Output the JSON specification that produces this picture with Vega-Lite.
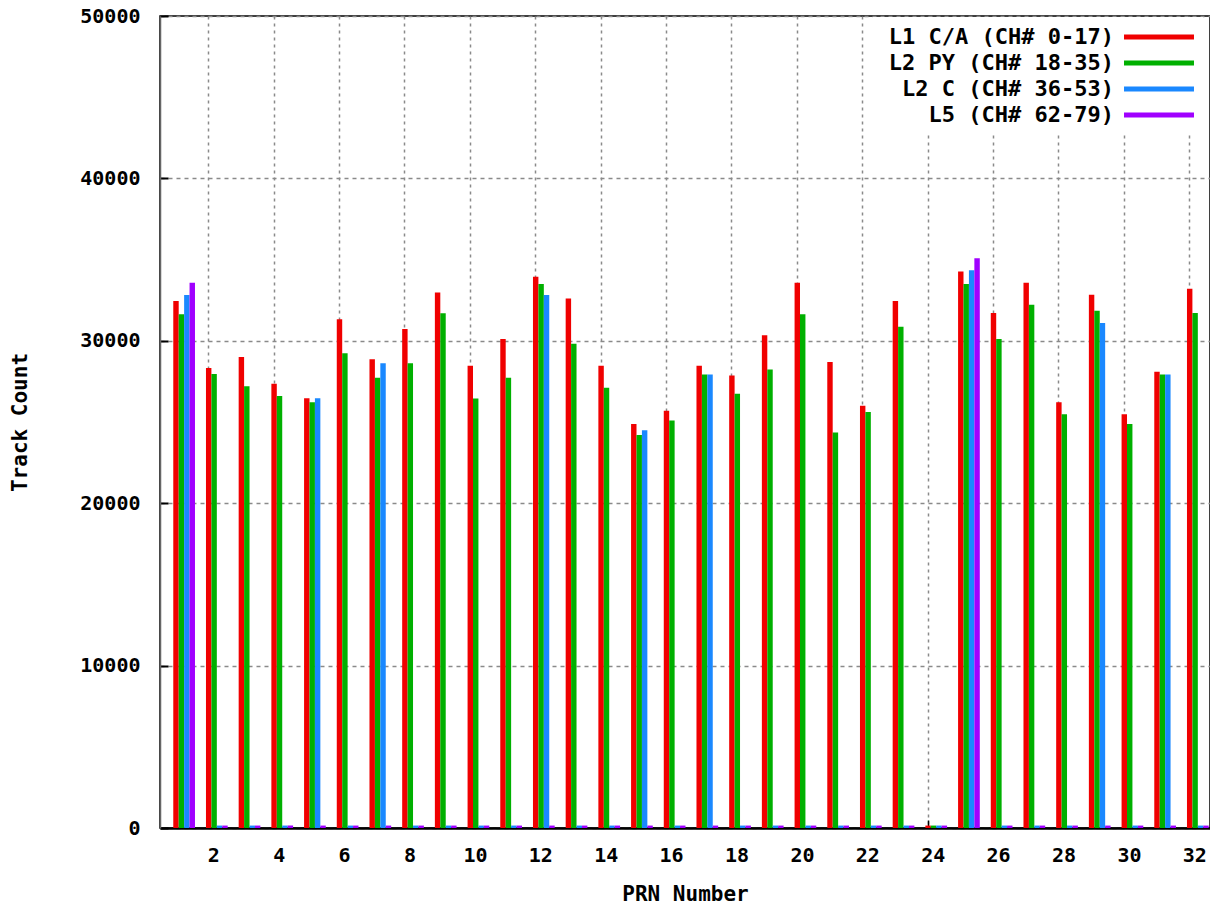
{
  "$schema": "https://vega.github.io/schema/vega-lite/v6.json",
  "width": 1050,
  "height": 812,
  "autosize": {"type": "none"},
  "padding": {"left": 160, "top": 16, "right": 0, "bottom": 77},
  "background": "white",
  "config": {
    "view": {"stroke": "#000", "strokeWidth": 1.5},
    "font": "DejaVu Sans Mono"
  },
  "data": {
    "values": [
      {"prn": 1, "signal": "L1 C/A (CH# 0-17)", "count": 32450},
      {"prn": 1, "signal": "L2 PY (CH# 18-35)", "count": 31630},
      {"prn": 1, "signal": "L2 C (CH# 36-53)", "count": 32820},
      {"prn": 1, "signal": "L5 (CH# 62-79)", "count": 33580},
      {"prn": 2, "signal": "L1 C/A (CH# 0-17)", "count": 28330},
      {"prn": 2, "signal": "L2 PY (CH# 18-35)", "count": 27960},
      {"prn": 2, "signal": "L2 C (CH# 36-53)", "count": 150},
      {"prn": 2, "signal": "L5 (CH# 62-79)", "count": 150},
      {"prn": 3, "signal": "L1 C/A (CH# 0-17)", "count": 29000},
      {"prn": 3, "signal": "L2 PY (CH# 18-35)", "count": 27200},
      {"prn": 3, "signal": "L2 C (CH# 36-53)", "count": 150},
      {"prn": 3, "signal": "L5 (CH# 62-79)", "count": 150},
      {"prn": 4, "signal": "L1 C/A (CH# 0-17)", "count": 27360},
      {"prn": 4, "signal": "L2 PY (CH# 18-35)", "count": 26600},
      {"prn": 4, "signal": "L2 C (CH# 36-53)", "count": 150},
      {"prn": 4, "signal": "L5 (CH# 62-79)", "count": 150},
      {"prn": 5, "signal": "L1 C/A (CH# 0-17)", "count": 26460},
      {"prn": 5, "signal": "L2 PY (CH# 18-35)", "count": 26210},
      {"prn": 5, "signal": "L2 C (CH# 36-53)", "count": 26460},
      {"prn": 5, "signal": "L5 (CH# 62-79)", "count": 150},
      {"prn": 6, "signal": "L1 C/A (CH# 0-17)", "count": 31320},
      {"prn": 6, "signal": "L2 PY (CH# 18-35)", "count": 29230},
      {"prn": 6, "signal": "L2 C (CH# 36-53)", "count": 150},
      {"prn": 6, "signal": "L5 (CH# 62-79)", "count": 150},
      {"prn": 7, "signal": "L1 C/A (CH# 0-17)", "count": 28860},
      {"prn": 7, "signal": "L2 PY (CH# 18-35)", "count": 27730},
      {"prn": 7, "signal": "L2 C (CH# 36-53)", "count": 28610},
      {"prn": 7, "signal": "L5 (CH# 62-79)", "count": 150},
      {"prn": 8, "signal": "L1 C/A (CH# 0-17)", "count": 30730},
      {"prn": 8, "signal": "L2 PY (CH# 18-35)", "count": 28610},
      {"prn": 8, "signal": "L2 C (CH# 36-53)", "count": 150},
      {"prn": 8, "signal": "L5 (CH# 62-79)", "count": 150},
      {"prn": 9, "signal": "L1 C/A (CH# 0-17)", "count": 32980},
      {"prn": 9, "signal": "L2 PY (CH# 18-35)", "count": 31690},
      {"prn": 9, "signal": "L2 C (CH# 36-53)", "count": 150},
      {"prn": 9, "signal": "L5 (CH# 62-79)", "count": 150},
      {"prn": 10, "signal": "L1 C/A (CH# 0-17)", "count": 28470},
      {"prn": 10, "signal": "L2 PY (CH# 18-35)", "count": 26440},
      {"prn": 10, "signal": "L2 C (CH# 36-53)", "count": 150},
      {"prn": 10, "signal": "L5 (CH# 62-79)", "count": 150},
      {"prn": 11, "signal": "L1 C/A (CH# 0-17)", "count": 30110},
      {"prn": 11, "signal": "L2 PY (CH# 18-35)", "count": 27730},
      {"prn": 11, "signal": "L2 C (CH# 36-53)", "count": 150},
      {"prn": 11, "signal": "L5 (CH# 62-79)", "count": 150},
      {"prn": 12, "signal": "L1 C/A (CH# 0-17)", "count": 33950},
      {"prn": 12, "signal": "L2 PY (CH# 18-35)", "count": 33500},
      {"prn": 12, "signal": "L2 C (CH# 36-53)", "count": 32820},
      {"prn": 12, "signal": "L5 (CH# 62-79)", "count": 150},
      {"prn": 13, "signal": "L1 C/A (CH# 0-17)", "count": 32600},
      {"prn": 13, "signal": "L2 PY (CH# 18-35)", "count": 29820},
      {"prn": 13, "signal": "L2 C (CH# 36-53)", "count": 150},
      {"prn": 13, "signal": "L5 (CH# 62-79)", "count": 150},
      {"prn": 14, "signal": "L1 C/A (CH# 0-17)", "count": 28470},
      {"prn": 14, "signal": "L2 PY (CH# 18-35)", "count": 27110},
      {"prn": 14, "signal": "L2 C (CH# 36-53)", "count": 150},
      {"prn": 14, "signal": "L5 (CH# 62-79)", "count": 150},
      {"prn": 15, "signal": "L1 C/A (CH# 0-17)", "count": 24880},
      {"prn": 15, "signal": "L2 PY (CH# 18-35)", "count": 24200},
      {"prn": 15, "signal": "L2 C (CH# 36-53)", "count": 24490},
      {"prn": 15, "signal": "L5 (CH# 62-79)", "count": 150},
      {"prn": 16, "signal": "L1 C/A (CH# 0-17)", "count": 25700},
      {"prn": 16, "signal": "L2 PY (CH# 18-35)", "count": 25100},
      {"prn": 16, "signal": "L2 C (CH# 36-53)", "count": 150},
      {"prn": 16, "signal": "L5 (CH# 62-79)", "count": 150},
      {"prn": 17, "signal": "L1 C/A (CH# 0-17)", "count": 28470},
      {"prn": 17, "signal": "L2 PY (CH# 18-35)", "count": 27930},
      {"prn": 17, "signal": "L2 C (CH# 36-53)", "count": 27930},
      {"prn": 17, "signal": "L5 (CH# 62-79)", "count": 150},
      {"prn": 18, "signal": "L1 C/A (CH# 0-17)", "count": 27870},
      {"prn": 18, "signal": "L2 PY (CH# 18-35)", "count": 26740},
      {"prn": 18, "signal": "L2 C (CH# 36-53)", "count": 150},
      {"prn": 18, "signal": "L5 (CH# 62-79)", "count": 150},
      {"prn": 19, "signal": "L1 C/A (CH# 0-17)", "count": 30340},
      {"prn": 19, "signal": "L2 PY (CH# 18-35)", "count": 28240},
      {"prn": 19, "signal": "L2 C (CH# 36-53)", "count": 150},
      {"prn": 19, "signal": "L5 (CH# 62-79)", "count": 150},
      {"prn": 20, "signal": "L1 C/A (CH# 0-17)", "count": 33580},
      {"prn": 20, "signal": "L2 PY (CH# 18-35)", "count": 31630},
      {"prn": 20, "signal": "L2 C (CH# 36-53)", "count": 150},
      {"prn": 20, "signal": "L5 (CH# 62-79)", "count": 150},
      {"prn": 21, "signal": "L1 C/A (CH# 0-17)", "count": 28690},
      {"prn": 21, "signal": "L2 PY (CH# 18-35)", "count": 24360},
      {"prn": 21, "signal": "L2 C (CH# 36-53)", "count": 150},
      {"prn": 21, "signal": "L5 (CH# 62-79)", "count": 150},
      {"prn": 22, "signal": "L1 C/A (CH# 0-17)", "count": 26000},
      {"prn": 22, "signal": "L2 PY (CH# 18-35)", "count": 25620},
      {"prn": 22, "signal": "L2 C (CH# 36-53)", "count": 150},
      {"prn": 22, "signal": "L5 (CH# 62-79)", "count": 150},
      {"prn": 23, "signal": "L1 C/A (CH# 0-17)", "count": 32450},
      {"prn": 23, "signal": "L2 PY (CH# 18-35)", "count": 30870},
      {"prn": 23, "signal": "L2 C (CH# 36-53)", "count": 150},
      {"prn": 23, "signal": "L5 (CH# 62-79)", "count": 150},
      {"prn": 24, "signal": "L1 C/A (CH# 0-17)", "count": 150},
      {"prn": 24, "signal": "L2 PY (CH# 18-35)", "count": 150},
      {"prn": 24, "signal": "L2 C (CH# 36-53)", "count": 150},
      {"prn": 24, "signal": "L5 (CH# 62-79)", "count": 150},
      {"prn": 25, "signal": "L1 C/A (CH# 0-17)", "count": 34260},
      {"prn": 25, "signal": "L2 PY (CH# 18-35)", "count": 33500},
      {"prn": 25, "signal": "L2 C (CH# 36-53)", "count": 34340},
      {"prn": 25, "signal": "L5 (CH# 62-79)", "count": 35080},
      {"prn": 26, "signal": "L1 C/A (CH# 0-17)", "count": 31710},
      {"prn": 26, "signal": "L2 PY (CH# 18-35)", "count": 30110},
      {"prn": 26, "signal": "L2 C (CH# 36-53)", "count": 150},
      {"prn": 26, "signal": "L5 (CH# 62-79)", "count": 150},
      {"prn": 27, "signal": "L1 C/A (CH# 0-17)", "count": 33580},
      {"prn": 27, "signal": "L2 PY (CH# 18-35)", "count": 32220},
      {"prn": 27, "signal": "L2 C (CH# 36-53)", "count": 150},
      {"prn": 27, "signal": "L5 (CH# 62-79)", "count": 150},
      {"prn": 28, "signal": "L1 C/A (CH# 0-17)", "count": 26210},
      {"prn": 28, "signal": "L2 PY (CH# 18-35)", "count": 25470},
      {"prn": 28, "signal": "L2 C (CH# 36-53)", "count": 150},
      {"prn": 28, "signal": "L5 (CH# 62-79)", "count": 150},
      {"prn": 29, "signal": "L1 C/A (CH# 0-17)", "count": 32840},
      {"prn": 29, "signal": "L2 PY (CH# 18-35)", "count": 31850},
      {"prn": 29, "signal": "L2 C (CH# 36-53)", "count": 31100},
      {"prn": 29, "signal": "L5 (CH# 62-79)", "count": 150},
      {"prn": 30, "signal": "L1 C/A (CH# 0-17)", "count": 25470},
      {"prn": 30, "signal": "L2 PY (CH# 18-35)", "count": 24880},
      {"prn": 30, "signal": "L2 C (CH# 36-53)", "count": 150},
      {"prn": 30, "signal": "L5 (CH# 62-79)", "count": 150},
      {"prn": 31, "signal": "L1 C/A (CH# 0-17)", "count": 28100},
      {"prn": 31, "signal": "L2 PY (CH# 18-35)", "count": 27930},
      {"prn": 31, "signal": "L2 C (CH# 36-53)", "count": 27930},
      {"prn": 31, "signal": "L5 (CH# 62-79)", "count": 150},
      {"prn": 32, "signal": "L1 C/A (CH# 0-17)", "count": 33210},
      {"prn": 32, "signal": "L2 PY (CH# 18-35)", "count": 31710},
      {"prn": 32, "signal": "L2 C (CH# 36-53)", "count": 150},
      {"prn": 32, "signal": "L5 (CH# 62-79)", "count": 150}
    ]
  },
  "mark": {"type": "bar"},
  "encoding": {
    "x": {
      "field": "prn",
      "type": "ordinal",
      "scale": {"paddingInner": 0.336, "paddingOuter": 0.223, "align": 0.91},
      "axis": {
        "values": [2, 4, 6, 8, 10, 12, 14, 16, 18, 20, 22, 24, 26, 28, 30, 32],
        "bandPosition": 0.13,
        "labelOffset": -3,
        "labelAngle": 0,
        "labelFont": "DejaVu Sans Mono",
        "labelFontWeight": "bold",
        "labelFontSize": 20,
        "labelColor": "#000",
        "labelPadding": 25,
        "tickSize": -8,
        "tickColor": "#000",
        "tickWidth": 1.5,
        "grid": true,
        "gridColor": "#8a8a8a",
        "gridDash": [3, 4],
        "gridWidth": 1.5,
        "domainColor": "#000",
        "domainWidth": 2.5,
        "title": "PRN Number",
        "titleFont": "DejaVu Sans Mono",
        "titleFontSize": 21,
        "titleFontWeight": "bold",
        "titleColor": "#000",
        "titleY": 55
      }
    },
    "xOffset": {
      "field": "signal",
      "type": "nominal",
      "sort": ["L1 C/A (CH# 0-17)", "L2 PY (CH# 18-35)", "L2 C (CH# 36-53)", "L5 (CH# 62-79)"],
      "scale": {"paddingInner": 0, "paddingOuter": 0}
    },
    "y": {
      "field": "count",
      "type": "quantitative",
      "scale": {"domain": [0, 50000], "nice": false},
      "axis": {
        "values": [0, 10000, 20000, 30000, 40000, 50000],
        "format": "d",
        "labelFont": "DejaVu Sans Mono",
        "labelFontWeight": "bold",
        "labelFontSize": 20,
        "labelColor": "#000",
        "labelPadding": 28,
        "tickSize": -8,
        "tickColor": "#000",
        "tickWidth": 2,
        "grid": true,
        "gridColor": "#8a8a8a",
        "gridDash": [4, 4],
        "gridWidth": 1.5,
        "domainColor": "#666",
        "domainWidth": 1.5,
        "title": "Track Count",
        "titleFont": "DejaVu Sans Mono",
        "titleFontSize": 21,
        "titleFontWeight": "bold",
        "titleColor": "#000",
        "titleX": -130,
        "titleY": 406
      }
    },
    "color": {
      "field": "signal",
      "type": "nominal",
      "scale": {
        "domain": ["L1 C/A (CH# 0-17)", "L2 PY (CH# 18-35)", "L2 C (CH# 36-53)", "L5 (CH# 62-79)"],
        "range": ["#f00000", "#00b000", "#1a88ff", "#a000ff"]
      },
      "legend": {
        "orient": "none",
        "legendX": 713,
        "legendY": 1,
        "title": null,
        "padding": 9,
        "fillColor": "white",
        "strokeColor": null,
        "symbolType": "M-4,-0.3L4,-0.3L4,0.3L-4,0.3Z",
        "symbolSize": 306,
        "symbolStrokeWidth": 0,
        "symbolOpacity": 1,
        "symbolOffset": 266,
        "labelOffset": -56,
        "labelAlign": "right",
        "labelFont": "DejaVu Sans Mono",
        "labelFontWeight": "bold",
        "labelFontSize": 22,
        "labelColor": "#000",
        "labelLimit": 500,
        "rowPadding": 4
      }
    }
  }
}
